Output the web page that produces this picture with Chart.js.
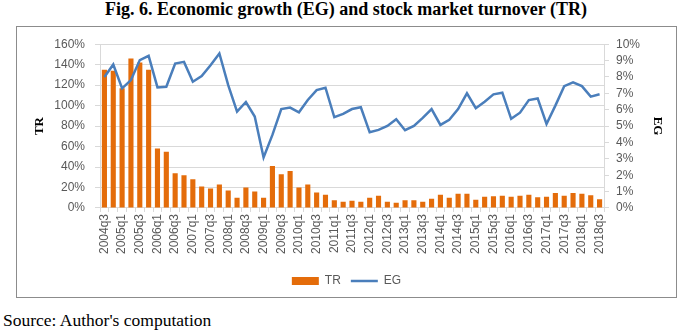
<!DOCTYPE html>
<html>
<head>
<meta charset="utf-8">
<script src="https://cdn.jsdelivr.net/npm/chart.js@4/dist/chart.umd.min.js"></script>
<style>
  html, body { margin: 0; padding: 0; background: #fff; }
  body { width: 692px; height: 330px; position: relative; overflow: hidden; }
  #title { position: absolute; left: 0; top: -1px; width: 692px; text-align: center;
    font-family: "Liberation Serif", "Times New Roman", serif; font-weight: bold; font-size: 18px; line-height: 20px; color: #000; }
  #box { position: absolute; left: 16px; top: 26px; width: 659px; height: 270px; border: 1px solid #8c8c8c; }
  #source { position: absolute; left: 3px; top: 310px; font-family: "Liberation Serif", "Times New Roman", serif; font-size: 17.5px; line-height: 20px; color: #000; }
</style>
</head>
<body>
<div id="title">Fig. 6. Economic growth (EG) and stock market turnover (TR)</div>
<div id="box"><canvas id="c" width="659" height="270"></canvas></div>
<div id="source">Source: Author's computation</div>
<script>
const quarters = [
  "2004q3","2004q4","2005q1","2005q2","2005q3","2005q4","2006q1","2006q2","2006q3","2006q4",
  "2007q1","2007q2","2007q3","2007q4","2008q1","2008q2","2008q3","2008q4","2009q1","2009q2",
  "2009q3","2009q4","2010q1","2010q2","2010q3","2010q4","2011q1","2011q2","2011q3","2011q4",
  "2012q1","2012q2","2012q3","2012q4","2013q1","2013q2","2013q3","2013q4","2014q1","2014q2",
  "2014q3","2014q4","2015q1","2015q2","2015q3","2015q4","2016q1","2016q2","2016q3","2016q4",
  "2017q1","2017q2","2017q3","2017q4","2018q1","2018q2","2018q3"
];
// Stock market turnover (%), left axis
const trValues = [
  135, 134, 117, 146, 142, 135, 58, 55, 34, 32,
  28, 21, 19, 23, 17, 10, 20, 16, 10, 41,
  33, 36, 20, 23, 15, 13, 7.5, 6, 7, 6,
  10, 12, 6, 5, 7.5, 7.5, 6, 9, 13, 10,
  14, 14, 8, 11, 11.5, 12, 11, 12, 13, 10.5,
  11, 14.5, 12, 14.5, 14, 12.3, 8.4
];
// Economic growth (%), right axis
const egValues = [
  8.0, 8.76, 7.3, 7.81, 9.03, 9.29, 7.36, 7.4, 8.82, 8.92,
  7.71, 8.05, 8.72, 9.43, 7.5, 5.88, 6.47, 5.58, 3.08, 4.46,
  6.04, 6.13, 5.84, 6.59, 7.2, 7.34, 5.54, 5.74, 6.04, 6.15,
  4.62, 4.77, 5.01, 5.42, 4.75, 5.01, 5.5, 6.04, 5.07, 5.38,
  6.04, 7.0, 6.09, 6.49, 6.94, 7.04, 5.44, 5.82, 6.59, 6.69,
  5.13, 6.25, 7.44, 7.67, 7.44, 6.8, 6.94
];
const leftTicks = [0, 20, 40, 60, 80, 100, 120, 140, 160];
const rightTicks = [0, 1, 2, 3, 4, 5, 6, 7, 8, 9, 10];

const tickFont = { family: "'Liberation Sans', Arial, sans-serif", size: 12 };
const tickColor = '#595959';
const gridColor = '#d9d9d9';

new Chart(document.getElementById('c'), {
  type: 'bar',
  data: {
    labels: quarters,
    datasets: [
      {
        type: 'line', label: 'EG', data: egValues, yAxisID: 'yR',
        borderColor: '#4a7ebb', backgroundColor: '#4a7ebb', borderWidth: 2.5,
        pointRadius: 0, pointStyle: 'line', tension: 0, order: 0
      },
      {
        type: 'bar', label: 'TR', data: trValues, yAxisID: 'yL',
        backgroundColor: '#e46c0a', borderWidth: 0, pointStyle: 'rect',
        barPercentage: 0.58, categoryPercentage: 1.0, order: 1
      }
    ]
  },
  options: {
    responsive: false, animation: false, devicePixelRatio: 1,
    layout: { padding: { left: 11, right: 11, top: 13, bottom: 0 } },
    plugins: {
      tooltip: { enabled: false },
      legend: {
        position: 'bottom', reverse: true,
        labels: {
          usePointStyle: true, pointStyleWidth: 27, boxHeight: 8,
          font: tickFont, color: tickColor, padding: 10
        }
      }
    },
    scales: {
      x: {
        grid: { display: true, drawOnChartArea: false, tickLength: 4, color: gridColor, offset: true },
        border: { display: true, color: gridColor },
        afterFit: s => { s.height = s.height + 9; },
        ticks: {
          autoSkip: false, maxRotation: 90, minRotation: 90, padding: 2,
          font: tickFont, color: tickColor,
          callback: function(v, i) { return i % 2 === 0 ? quarters[i] : ''; }
        }
      },
      yL: {
        position: 'left', min: 0, max: 160,
        afterBuildTicks: s => { s.ticks = leftTicks.map(v => ({ value: v })); },
        afterFit: s => { s.width = 72; },
        grid: { color: gridColor, tickLength: 5 },
        border: { display: true, color: gridColor },
        ticks: { autoSkip: false, padding: 10, font: tickFont, color: tickColor, callback: v => v + '%' },
        title: { display: true, text: 'TR', padding: { top: 4, bottom: 0 },
          font: { family: "'Liberation Serif', 'Times New Roman', serif", size: 13, weight: 'bold' }, color: '#000' }
      },
      yR: {
        position: 'right', min: 0, max: 10,
        afterBuildTicks: s => { s.ticks = rightTicks.map(v => ({ value: v })); },
        afterFit: s => { s.width = 61; },
        grid: { drawOnChartArea: false, color: gridColor, tickLength: 5 },
        border: { display: true, color: gridColor },
        ticks: { autoSkip: false, padding: 7, font: tickFont, color: tickColor, callback: v => v + '%' },
        title: { display: true, text: 'EG', padding: { top: 0, bottom: 0 },
          font: { family: "'Liberation Serif', 'Times New Roman', serif", size: 13, weight: 'bold' }, color: '#000' }
      }
    }
  }
});
</script>
</body>
</html>
